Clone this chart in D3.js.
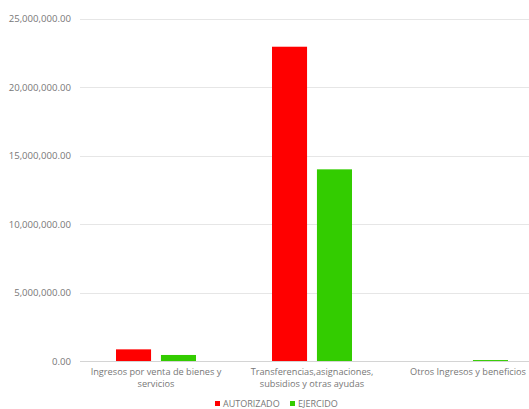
<!DOCTYPE html>
<html><head><meta charset="utf-8">
<script src="https://cdn.jsdelivr.net/npm/d3@7"></script>
<style>body{margin:0;background:#fff}svg{display:block}text{font-family:"Open Sans","Liberation Sans",sans-serif;fill:#777}</style>
</head><body><svg id="c" width="529" height="409"></svg>
<script>
const categories = [
  ["Ingresos por venta de bienes y", "servicios"],
  ["Transferencias,asignaciones,", "subsidios y otras ayudas"],
  ["Otros Ingresos y beneficios"]
];
const seriesNames = ["AUTORIZADO", "EJERCIDO"];
const autorizado = [850000, 22940000, 0];
const ejercido = [440000, 13990000, 70000];
const yTicks = [0, 5000000, 10000000, 15000000, 20000000, 25000000];
const colors = ["#FF0000", "#33CC00"];

const svg = d3.select("#c");
const y = d3.scaleLinear().domain([0, 25000000]).range([361, 18.5]);
const x0 = d3.scaleBand().domain(d3.range(categories.length)).range([78, 546]).padding(0);
const x1 = d3.scaleBand().domain(seriesNames).range([x0.bandwidth()/2 - 40, x0.bandwidth()/2 + 40]).paddingInner(0.22);

const fmt = d3.format(",.2f");
const yAxis = svg.append("g").attr("transform", "translate(80,0)")
  .call(d3.axisLeft(y).tickValues(yTicks).tickSize(0).tickPadding(9).tickFormat(fmt));
yAxis.select(".domain").remove();
yAxis.selectAll("text").style("font-size", "9.6px").attr("fill", "#777").attr("font-family", null);

svg.append("g").selectAll("line").data(yTicks).join("line")
  .attr("x1", 80).attr("x2", 529)
  .attr("y1", d => Math.round(y(d)) + 0.5).attr("y2", d => Math.round(y(d)) + 0.5)
  .attr("stroke", d => d === 0 ? "#d4d4d4" : "#e6e6e6").attr("stroke-width", 1);

const data = [autorizado, ejercido];
const g = svg.append("g");
categories.forEach((c, i) => {
  seriesNames.forEach((s, j) => {
    const v = data[j][i];
    if (v <= 0) return;
    g.append("rect")
      .attr("x", x0(i) + x1(s))
      .attr("y", y(v))
      .attr("width", x1.bandwidth())
      .attr("height", y(0) - y(v))
      .attr("fill", colors[j]);
  });
});

const xl = svg.append("g");
categories.forEach((c, i) => {
  const t = xl.append("text").attr("text-anchor", "middle")
    .attr("x", x0(i) + x0.bandwidth()/2).attr("y", 375).style("font-size", "9.2px");
  c.forEach((line, k) => t.append("tspan").attr("x", x0(i) + x0.bandwidth()/2).attr("dy", k === 0 ? 0 : 12).text(line));
});

const leg = svg.append("g");
const legX = [215, 290];
seriesNames.forEach((s, j) => {
  leg.append("rect").attr("x", legX[j]).attr("y", 401).attr("width", 5).attr("height", 5).attr("fill", colors[j]);
  leg.append("text").attr("x", legX[j] + 8).attr("y", 407).style("font-size", "9px").text(s);
});
</script></body></html>
